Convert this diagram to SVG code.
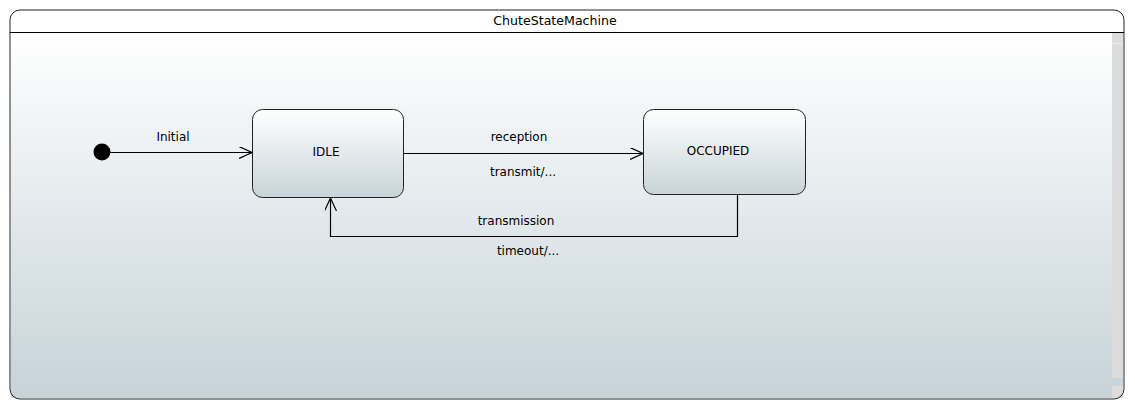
<svg xmlns="http://www.w3.org/2000/svg" width="1135" height="410" viewBox="0 0 1135 410">
<defs>
<linearGradient id="bg" x1="0" y1="0" x2="0" y2="1">
<stop offset="0" stop-color="#ffffff"/>
<stop offset="1" stop-color="#c6d3d9"/>
</linearGradient>
<linearGradient id="ng" x1="0" y1="0" x2="0" y2="1">
<stop offset="0" stop-color="#ffffff"/>
<stop offset="1" stop-color="#c8d4d9"/>
</linearGradient>
<marker id="arr" markerWidth="14" markerHeight="12" refX="13" refY="6" orient="auto" markerUnits="userSpaceOnUse">
<path d="M0,0 L13,6 L0,12" fill="none" stroke="#000" stroke-width="1.2"/>
</marker>
<style>
text{font-family:"DejaVu Sans",sans-serif;font-size:12px;fill:#000;}
.t{font-size:12.6px;}
.st{fill:url(#ng);stroke:#222;stroke-width:1;}
.c{fill:none;stroke:#000;stroke-width:1.2;}
</style>
</defs>
<g id="frame">
<path d="M20,10 H1114 A10,10 0 0 1 1124,20 V389 A10,10 0 0 1 1114,399 H20 A10,10 0 0 1 10,389 V20 A10,10 0 0 1 20,10 Z" fill="#ffffff"/>
<rect x="11" y="33" width="1112" height="365" fill="url(#bg)"/>
<rect x="1112" y="33" width="11" height="345" fill="#dcdcdc"/>
<line x1="1112" y1="43.5" x2="1123" y2="43.5" stroke="#eeeeee"/>
<rect x="1112" y="386" width="11" height="12" fill="#dcdcdc"/>
<path d="M20,10 H1114 A10,10 0 0 1 1124,20 V389 A10,10 0 0 1 1114,399 H20 A10,10 0 0 1 10,389 V20 A10,10 0 0 1 20,10 Z" fill="none" stroke="#222" stroke-width="1"/>
<line x1="10" y1="32.5" x2="1124" y2="32.5" stroke="#000" stroke-width="1"/>
<text class="t" x="555" y="25" text-anchor="middle">ChuteStateMachine</text>
</g>
<g id="initial">
<circle cx="102" cy="152" r="8.5" fill="#000"/>
</g>
<g id="idle">
<rect class="st" x="252.5" y="109.5" width="151" height="88" rx="10"/>
<text x="326" y="156" text-anchor="middle">IDLE</text>
</g>
<g id="occupied">
<rect class="st" x="643.5" y="109.5" width="162" height="85" rx="10"/>
<text x="718" y="155" text-anchor="middle">OCCUPIED</text>
</g>
<g id="connectors">
<line class="c" x1="110" y1="152.5" x2="252" y2="152.5" marker-end="url(#arr)"/>
<text x="173" y="141" text-anchor="middle">Initial</text>
<line class="c" x1="404" y1="153.5" x2="643" y2="153.5" marker-end="url(#arr)"/>
<text x="519" y="141" text-anchor="middle">reception</text>
<text x="523" y="176" text-anchor="middle">transmit/...</text>
<polyline class="c" points="737.5,195 737.5,236.5 330.5,236.5 330.5,198" marker-end="url(#arr)"/>
<text x="516" y="225" text-anchor="middle">transmission</text>
<text x="528" y="255" text-anchor="middle">timeout/...</text>
</g>
</svg>
